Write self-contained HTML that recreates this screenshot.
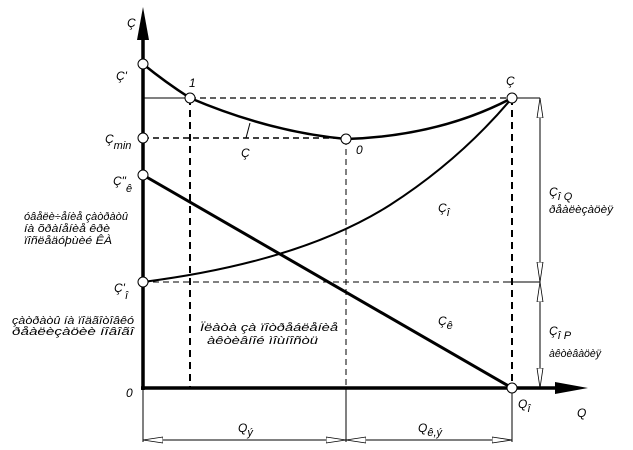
<!DOCTYPE html>
<html><head><meta charset="utf-8"><style>
html,body{margin:0;padding:0;background:#fff;width:633px;height:450px;overflow:hidden}
text{font-family:"Liberation Sans",sans-serif;font-style:italic;fill:#000}
</style></head><body>
<svg width="633" height="450" viewBox="0 0 633 450" xmlns="http://www.w3.org/2000/svg">
<defs>
<marker id="ha" viewBox="0 0 20 8" refX="20" refY="4" markerWidth="20" markerHeight="8" markerUnits="userSpaceOnUse" orient="auto">
<path d="M0,1 L20,4 L0,7 Z" fill="#fff" stroke="#000" stroke-width="0.8"/>
</marker>
</defs>
<!-- axes -->
<line x1="143" y1="390" x2="143" y2="38" stroke="#000" stroke-width="3.5"/>
<path d="M143,7 L137,40 L149,40 Z" fill="#000"/>
<line x1="141" y1="388" x2="560" y2="388" stroke="#000" stroke-width="3.5"/>
<path d="M588,388 L555,382 L555,394 Z" fill="#000"/>
<!-- guide lines -->
<line x1="143" y1="98" x2="190" y2="98" stroke="#000" stroke-width="1"/>
<line x1="190" y1="98" x2="512" y2="98" stroke="#000" stroke-width="1.3" stroke-dasharray="6,4"/>
<line x1="143" y1="138" x2="346" y2="138" stroke="#000" stroke-width="1.6" stroke-dasharray="6,4"/>
<line x1="190" y1="98" x2="190" y2="388" stroke="#000" stroke-width="2" stroke-dasharray="7,5"/>
<line x1="346" y1="139" x2="346" y2="388" stroke="#000" stroke-width="1" stroke-dasharray="6,4"/>
<line x1="512" y1="98" x2="512" y2="388" stroke="#000" stroke-width="2" stroke-dasharray="7,5"/>
<line x1="143" y1="282" x2="505" y2="282" stroke="#000" stroke-width="1" stroke-dasharray="6,4"/>
<line x1="505" y1="282" x2="540" y2="282" stroke="#000" stroke-width="1"/>
<line x1="512" y1="98" x2="540" y2="98" stroke="#000" stroke-width="1"/>
<!-- right dimension -->
<line x1="540" y1="98" x2="540" y2="388" stroke="#000" stroke-width="1"/>
<line x1="540" y1="190" x2="540" y2="98" stroke="#000" stroke-width="1" marker-end="url(#ha)"/>
<line x1="540" y1="190" x2="540" y2="282" stroke="#000" stroke-width="1" marker-end="url(#ha)"/>
<line x1="540" y1="335" x2="540" y2="282" stroke="#000" stroke-width="1" marker-end="url(#ha)"/>
<line x1="540" y1="335" x2="540" y2="388" stroke="#000" stroke-width="1" marker-end="url(#ha)"/>
<!-- bottom dimension -->
<line x1="143" y1="388" x2="143" y2="442" stroke="#000" stroke-width="1"/>
<line x1="346" y1="388" x2="346" y2="442" stroke="#000" stroke-width="1"/>
<line x1="512" y1="388" x2="512" y2="442" stroke="#000" stroke-width="1"/>
<line x1="143" y1="440" x2="512" y2="440" stroke="#000" stroke-width="1"/>
<line x1="245" y1="440" x2="143" y2="440" stroke="#000" stroke-width="1" marker-end="url(#ha)"/>
<line x1="245" y1="440" x2="346" y2="440" stroke="#000" stroke-width="1" marker-end="url(#ha)"/>
<line x1="430" y1="440" x2="346" y2="440" stroke="#000" stroke-width="1" marker-end="url(#ha)"/>
<line x1="430" y1="440" x2="512" y2="440" stroke="#000" stroke-width="1" marker-end="url(#ha)"/>
<!-- curves -->
<path d="M143,64 Q165,82 190,98 Q270,132 346,139 Q440,136 512,98" fill="none" stroke="#000" stroke-width="2.5"/>
<path d="M143,282 Q300,262 390,205 Q460,160 512,98" fill="none" stroke="#000" stroke-width="2"/>
<line x1="143" y1="175" x2="512" y2="388" stroke="#000" stroke-width="3"/>
<line x1="250" y1="123" x2="246" y2="138" stroke="#000" stroke-width="1"/>
<!-- points -->
<g fill="#fff" stroke="#000" stroke-width="1">
<circle cx="143" cy="64" r="5"/><circle cx="190" cy="98" r="5"/><circle cx="143" cy="138" r="5"/>
<circle cx="143" cy="175" r="5"/><circle cx="143" cy="282" r="5"/><circle cx="346" cy="139" r="5"/>
<circle cx="512" cy="98" r="5"/><circle cx="512" cy="388" r="5"/>
</g>
<!-- labels -->
<g font-size="12">
<text x="127" y="27">Ç</text>
<text x="116" y="80">Ç'</text>
<text x="189" y="87">1</text>
<text x="105" y="143">Ç<tspan font-size="11" dy="6">min</tspan></text>
<text x="241" y="157">Ç</text>
<text x="356" y="154">0</text>
<text x="113" y="185">Ç"<tspan dy="7" font-size="11">ê</tspan></text>
<text x="114" y="292">Ç'<tspan dy="7" font-size="11">î</tspan></text>
<text x="126" y="397">0</text>
<text x="506" y="85">Ç</text>
<text x="518" y="408">Q<tspan dy="4" font-size="11">î</tspan></text>
<text x="577" y="417">Q</text>
<text x="438" y="212">Ç<tspan dy="4" font-size="11">î</tspan></text>
<text x="438" y="325">Ç<tspan dy="4" font-size="11">ê</tspan></text>
<text x="549" y="196">Ç<tspan dy="4" font-size="11">î Q</tspan></text>
<text x="549" y="213" font-size="11" textLength="64" lengthAdjust="spacingAndGlyphs">ðåàëèçàöèÿ</text>
<text x="549" y="335">Ç<tspan dy="4" font-size="11">î P</tspan></text>
<text x="549" y="357" font-size="11" textLength="52" lengthAdjust="spacingAndGlyphs">àêòèâàöèÿ</text>
<text x="238" y="432">Q<tspan dy="4" font-size="11">ý</tspan></text>
<text x="418" y="432">Q<tspan dy="4" font-size="11">ê,ý</tspan></text>
</g>
<g font-size="11">
<text x="24" y="220" textLength="104" lengthAdjust="spacingAndGlyphs">óâåëè÷åíèå çàòðàòû</text>
<text x="24" y="232" textLength="86" lengthAdjust="spacingAndGlyphs">íà õðàíåíèå êðè</text>
<text x="24" y="244" textLength="88" lengthAdjust="spacingAndGlyphs">ïîñëåäóþùèé ÊÀ</text>
<text x="12" y="324" textLength="122" lengthAdjust="spacingAndGlyphs">çàòðàòû íà ïîäãîòîâêó</text>
<text x="12" y="335" textLength="122" lengthAdjust="spacingAndGlyphs">ðåàëèçàöèè íîâîãî</text>
<text x="200" y="331" textLength="138" lengthAdjust="spacingAndGlyphs">Ïëàòà çà ïîòðåáëåíèå</text>
<text x="207" y="344" textLength="111" lengthAdjust="spacingAndGlyphs">àêòèâíîé ìîùíîñòü</text>
</g>
</svg>
</body></html>
